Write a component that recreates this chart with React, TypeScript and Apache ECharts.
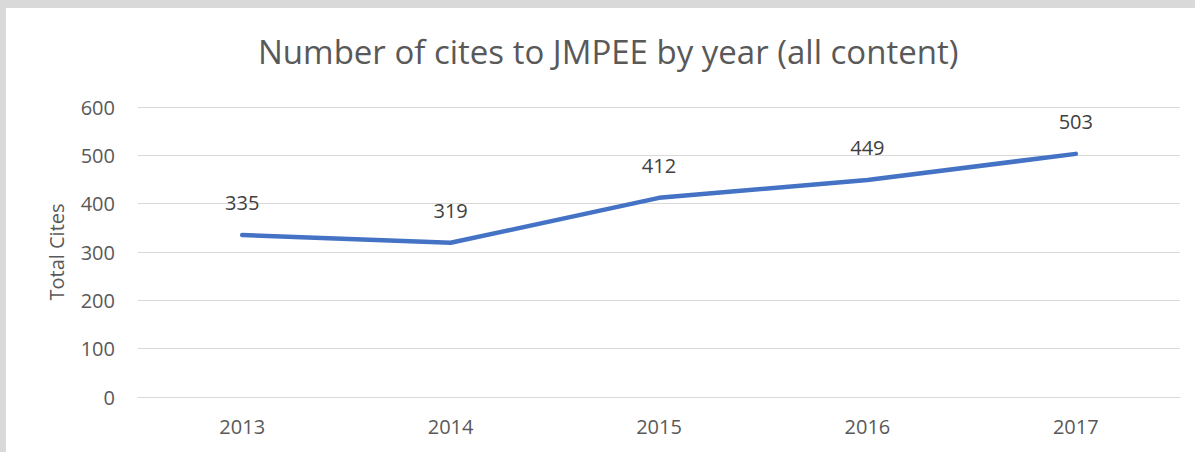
import React, { useEffect, useRef } from "react";
import * as echarts from "echarts";

const years = ["2013", "2014", "2015", "2016", "2017"];
const cites = [335, 319, 412, 449, 503];
const yTicks = { min: 0, max: 600, interval: 100 };

export default function App() {
  const ref = useRef<HTMLDivElement>(null);
  useEffect(() => {
    const chart = echarts.init(ref.current!, null, { renderer: "svg" });
    const font = "Open Sans";
    chart.setOption({
      animation: false,
      backgroundColor: "#ffffff",
      title: {
        text: "Number of cites to JMPEE by year (all content)",
        left: 247,
        top: 22,
        textStyle: { fontFamily: font, fontSize: 33, fontWeight: "normal", color: "#595959" },
      },
      grid: { left: 132, right: 15, top: 99, bottom: 55 },
      xAxis: {
        type: "category",
        data: years,
        boundaryGap: true,
        axisLine: { show: true, lineStyle: { color: "#d9d9d9", width: 1 } },
        axisTick: { show: false },
        axisLabel: { fontFamily: font, fontSize: 20, color: "#595959", margin: 19 },
      },
      yAxis: {
        type: "value",
        min: yTicks.min,
        max: yTicks.max,
        interval: yTicks.interval,
        name: "Total Cites",
        nameLocation: "middle",
        nameGap: 72,
        nameTextStyle: { fontFamily: font, fontSize: 20, color: "#595959" },
        axisLine: { show: false },
        axisTick: { show: false },
        splitLine: { lineStyle: { color: "#d9d9d9", width: 1 } },
        axisLabel: { fontFamily: font, fontSize: 20, color: "#595959", margin: 23 },
      },
      series: [
        {
          type: "line",
          data: cites,
          symbol: "circle",
          symbolSize: 1,
          showSymbol: true,
          lineStyle: { color: "#4472C4", width: 4.5, cap: "round", join: "round" },
          itemStyle: { color: "rgba(68,114,196,0)", borderWidth: 0 },
          label: {
            show: true,
            position: "top",
            distance: 22,
            fontFamily: font,
            fontSize: 20,
            color: "#404040",
          },
        },
      ],
    });
    return () => chart.dispose();
  }, []);
  return (
    <div style={{ position: "absolute", left: 0, top: 0, width: 1195, height: 452, background: "#d9d9d9" }}>
      <div ref={ref} style={{ position: "absolute", left: 6, top: 8, width: 1189, height: 444 }} />
    </div>
  );
}
